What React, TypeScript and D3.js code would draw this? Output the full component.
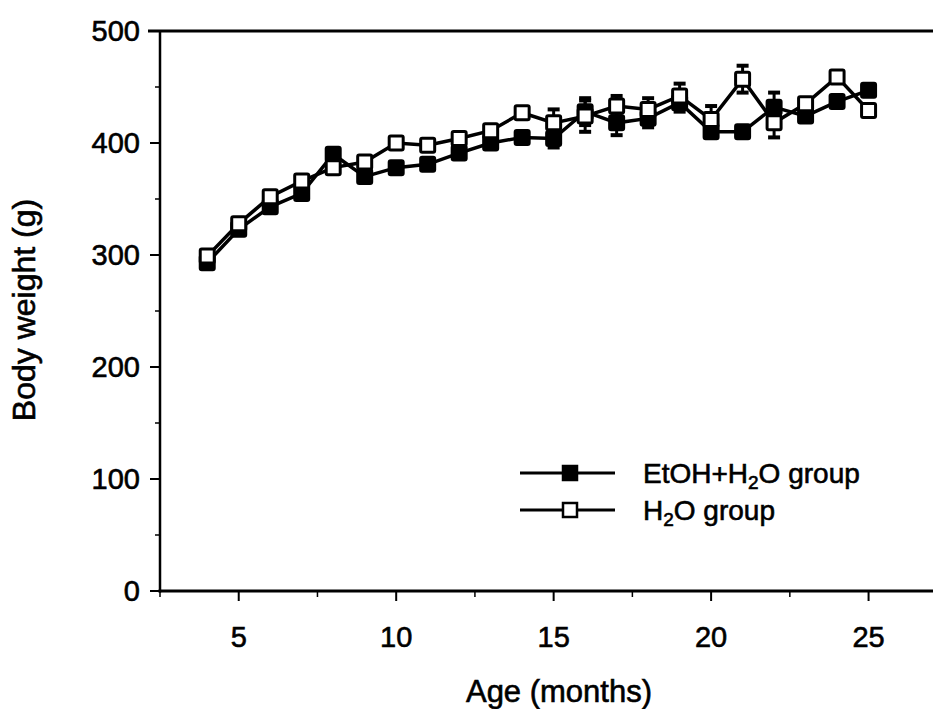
import { useEffect, useRef } from 'react';
import * as d3 from 'd3';

// Age in months
const months = [4, 5, 6, 7, 8, 9, 10, 11, 12, 13, 14, 15, 16, 17, 18, 19, 20, 21, 22, 23, 24, 25];
// EtOH+H2O group body weight (g), filled squares
const etohWeight = [293, 323, 343, 355, 390, 370, 378, 381, 391, 400, 405, 404, 428, 418, 422, 436, 410, 410, 432, 424, 437, 447];
const etohErr = [0, 0, 0, 0, 0, 0, 0, 0, 0, 0, 4, 8, 12, 11, 8, 8, 4, 4, 13, 5, 4, 5];
// H2O group body weight (g), open squares
const h2oWeight = [299, 328, 352, 366, 378, 383, 400, 398, 404, 411, 427, 418, 424, 433, 430, 442, 421, 457, 418, 435, 459, 429];
const h2oErr = [0, 0, 0, 0, 0, 0, 0, 0, 0, 0, 5, 12, 14, 9, 10, 11, 12, 12, 13, 5, 4, 4];

const xTicks = [5, 10, 15, 20, 25];
const xMinorTicks = [2.5, 7.5, 12.5, 17.5, 22.5];
const yTicks = [0, 100, 200, 300, 400, 500];
const yMinorTicks = [50, 150, 250, 350, 450];

const FONT = '"Liberation Sans", Arial, Helvetica, sans-serif';

export default function App() {
  const ref = useRef(null);

  useEffect(() => {
    const root = d3.select(ref.current);
    root.selectAll('*').remove();

    const W = 941;
    const H = 717;
    const svg = root.append('svg')
      .attr('width', W)
      .attr('height', H)
      .style('display', 'block')
      .style('background', '#fff');

    // scanned text looks a bit heavier than plain regular
    const txt = sel => sel
      .attr('font-family', FONT)
      .attr('fill', '#000')
      .attr('stroke', '#000')
      .attr('stroke-width', 0.6);

    const x = d3.scaleLinear().domain([2.5, 27.3]).range([160, 941]);
    const y = d3.scaleLinear().domain([0, 500]).range([591, 31]);

    // Axes frame: left axis, bottom axis, top line
    svg.append('line')
      .attr('x1', x(2.5)).attr('x2', x(2.5))
      .attr('y1', y(500)).attr('y2', y(0) + 1.5)
      .attr('stroke', '#000').attr('stroke-width', 2.5);
    svg.append('line')
      .attr('x1', x(2.5) - 1.5).attr('x2', W)
      .attr('y1', y(0)).attr('y2', y(0))
      .attr('stroke', '#000').attr('stroke-width', 3);
    svg.append('line')
      .attr('x1', x(2.5) - 12).attr('x2', W)
      .attr('y1', y(500)).attr('y2', y(500))
      .attr('stroke', '#000').attr('stroke-width', 3);

    // y ticks
    svg.selectAll('.ytick')
      .data(yTicks)
      .enter().append('line')
      .attr('x1', x(2.5) - 10).attr('x2', x(2.5))
      .attr('y1', d => y(d)).attr('y2', d => y(d))
      .attr('stroke', '#000').attr('stroke-width', 2);
    svg.selectAll('.yminor')
      .data(yMinorTicks)
      .enter().append('line')
      .attr('x1', x(2.5) - 5).attr('x2', x(2.5))
      .attr('y1', d => y(d)).attr('y2', d => y(d))
      .attr('stroke', '#000').attr('stroke-width', 1.5);
    svg.selectAll('.ylabel')
      .data(yTicks)
      .enter().append('text')
      .attr('x', 140)
      .attr('y', d => y(d) + 10)
      .attr('text-anchor', 'end')
      .attr('font-size', 29)
      .call(txt)
      .text(d => d);

    // x ticks
    svg.selectAll('.xtick')
      .data(xTicks)
      .enter().append('line')
      .attr('x1', d => x(d)).attr('x2', d => x(d))
      .attr('y1', y(0)).attr('y2', y(0) + 10)
      .attr('stroke', '#000').attr('stroke-width', 2);
    svg.selectAll('.xminor')
      .data(xMinorTicks)
      .enter().append('line')
      .attr('x1', d => x(d)).attr('x2', d => x(d))
      .attr('y1', y(0)).attr('y2', y(0) + 6)
      .attr('stroke', '#000').attr('stroke-width', 1.5);
    svg.selectAll('.xlabel')
      .data(xTicks)
      .enter().append('text')
      .attr('x', d => x(d))
      .attr('y', 647)
      .attr('text-anchor', 'middle')
      .attr('font-size', 29)
      .call(txt)
      .text(d => d);

    // Axis titles
    svg.append('text')
      .attr('x', 559)
      .attr('y', 702)
      .attr('text-anchor', 'middle')
      .attr('font-size', 31)
      .call(txt)
      .text('Age (months)');
    svg.append('text')
      .attr('transform', 'translate(35,310) rotate(-90)')
      .attr('text-anchor', 'middle')
      .attr('font-size', 32)
      .call(txt)
      .text('Body weight (g)');

    const series = [
      { values: etohWeight, err: etohErr, filled: true },
      { values: h2oWeight, err: h2oErr, filled: false },
    ];

    const line = d3.line<number>()
      .x((d, i) => x(months[i]))
      .y(d => y(d));

    const S = 14;
    series.forEach(s => {
      const g = svg.append('g');
      // error bars
      const eb = g.selectAll('.err')
        .data(s.values.map((v, i) => ({ m: months[i], v, e: s.err[i] })).filter(d => d.e > 0))
        .enter().append('g');
      eb.append('line')
        .attr('x1', d => x(d.m)).attr('x2', d => x(d.m))
        .attr('y1', d => y(d.v - d.e)).attr('y2', d => y(d.v + d.e))
        .attr('stroke', '#000').attr('stroke-width', 3);
      [1, -1].forEach(sign => {
        eb.append('line')
          .attr('x1', d => x(d.m) - 6).attr('x2', d => x(d.m) + 6)
          .attr('y1', d => y(d.v + sign * d.e)).attr('y2', d => y(d.v + sign * d.e))
          .attr('stroke', '#000').attr('stroke-width', 4);
      });

      g.append('path')
        .datum(s.values)
        .attr('fill', 'none')
        .attr('stroke', '#000')
        .attr('stroke-width', 3.5)
        .attr('d', line);

      g.selectAll('.pt')
        .data(s.values)
        .enter().append('rect')
        .attr('x', (d, i) => x(months[i]) - S / 2)
        .attr('y', d => y(d) - S / 2)
        .attr('width', S)
        .attr('height', S)
        .attr('rx', 1.5)
        .attr('fill', s.filled ? '#000' : '#fff')
        .attr('stroke', '#000')
        .attr('stroke-width', 3);
    });

    // Legend
    const legend = svg.append('g');
    const items = [
      { filled: true, y: 473, label: ['EtOH+H', '2', 'O group'] },
      { filled: false, y: 510, label: ['H', '2', 'O group'] },
    ];
    items.forEach(it => {
      legend.append('line')
        .attr('x1', 520).attr('x2', 615)
        .attr('y1', it.y).attr('y2', it.y)
        .attr('stroke', '#000').attr('stroke-width', 3);
      legend.append('rect')
        .attr('x', 570 - 7).attr('y', it.y - 7)
        .attr('width', 14).attr('height', 14)
        .attr('fill', it.filled ? '#000' : '#fff')
        .attr('stroke', '#000').attr('stroke-width', 2.5);
      const t = legend.append('text')
        .attr('x', 643)
        .attr('y', it.y + 10)
        .attr('font-size', 28)
        .call(txt);
      t.append('tspan').text(it.label[0]);
      t.append('tspan').attr('font-size', 19).attr('dy', 6).text(it.label[1]);
      t.append('tspan').attr('dy', -6).text(it.label[2]);
    });
  }, []);

  return <div ref={ref} style={{ width: 941, height: 717, margin: -8 }} />;
}
